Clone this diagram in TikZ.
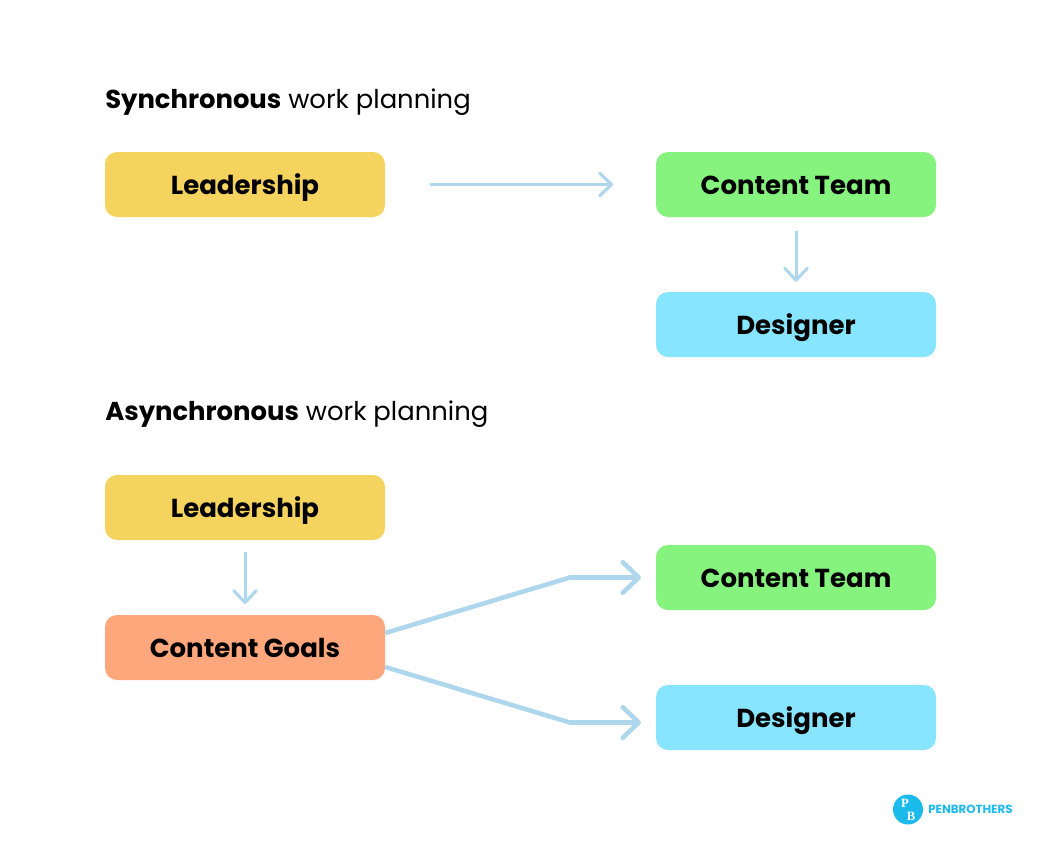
\documentclass[tikz,border=0pt]{standalone}
\usepackage{fontspec}
\setmainfont{Poppins}
\newfontfamily\logoserif{Liberation Serif}
\usetikzlibrary{arrows.meta}
\definecolor{cyellow}{HTML}{F4D35E}
\definecolor{cgreen}{HTML}{86F37E}
\definecolor{cblue}{HTML}{88E5FF}
\definecolor{corange}{HTML}{FFA77C}
\definecolor{cline}{HTML}{AED6EC}
\definecolor{clogo}{HTML}{1CBBEC}
\tikzset{
  x=0.75pt,y=-0.75pt,
  box/.style={rounded corners=9pt,minimum width=210pt,minimum height=48.75pt,inner sep=0pt,text height=15.5pt,text depth=0pt,font=\fontsize{19.5pt}{23pt}\selectfont\bfseries,text=black},
  heading/.style={anchor=base west,inner sep=0pt,font=\fontsize{19.4pt}{24pt}\selectfont,text=black},
  thin arrow/.style={draw=cline,line width=2.25pt,-{Straight Barb[length=9pt,width=17pt,line width=2.25pt,round]}},
  thick arrow/.style={draw=cline,line width=3.4pt,-{Straight Barb[length=12pt,width=23pt,line width=3.4pt,round]}},
  logoletter/.style={inner sep=0pt,text=white,font=\logoserif\fontsize{9.5pt}{9.5pt}\selectfont\bfseries},
}
\begin{document}
\begin{tikzpicture}
\useasboundingbox (0,0) rectangle (1040,850);
\fill[white] (0,0) rectangle (1040,850);
\node[heading] (h1) at (105,108) {\textbf{Synchronous} work planning};
\node[heading] (h2) at (105,420) {\textbf{Asynchronous} work planning};
\node[box,fill=cyellow] (l1) at (245,184.5) {Leadership};
\node[box,fill=cgreen] (c1) at (796,184.5) {Content Team};
\node[box,fill=cblue] (d1) at (796,324.5) {Designer};
\node[box,fill=cyellow] (l2) at (245,507.5) {Leadership};
\node[box,fill=corange] (g2) at (245,647.5) {Content Goals};
\node[box,fill=cgreen] (c2) at (796,577.5) {Content Team};
\node[box,fill=cblue] (d2) at (796,717.5) {Designer};
\draw[thin arrow] ([xshift=33.75pt]l1.east) -- ([xshift=-32pt]c1.west);
\draw[thin arrow] ([yshift=-10pt]c1.south) -- ([yshift=7.5pt]d1.north);
\draw[thin arrow] ([yshift=-9pt]l2.south) -- ([yshift=8pt]g2.north);
\coordinate (k1) at (570,577.5);
\coordinate (k2) at (570,722.5);
\coordinate (e1) at (641,577.5);
\coordinate (e2) at (641,722.5);
\draw[thick arrow] (g2.east |- 0,633) -- (k1) -- (e1);
\draw[thick arrow] (g2.east |- 0,667) -- (k2) -- (e2);
\node[circle,fill=clogo,minimum size=22.5pt,inner sep=0pt] (logo) at (908,809.5) {};
\node[logoletter] (lp) at (905,803) {P};
\node[logoletter] (lb) at (911,816) {B};
\node[anchor=west,inner sep=0pt,text=clogo,font=\fontsize{8.85pt}{9pt}\selectfont\bfseries] (name) at (928,809.5) {PENBROTHERS};
\end{tikzpicture}
\end{document}
